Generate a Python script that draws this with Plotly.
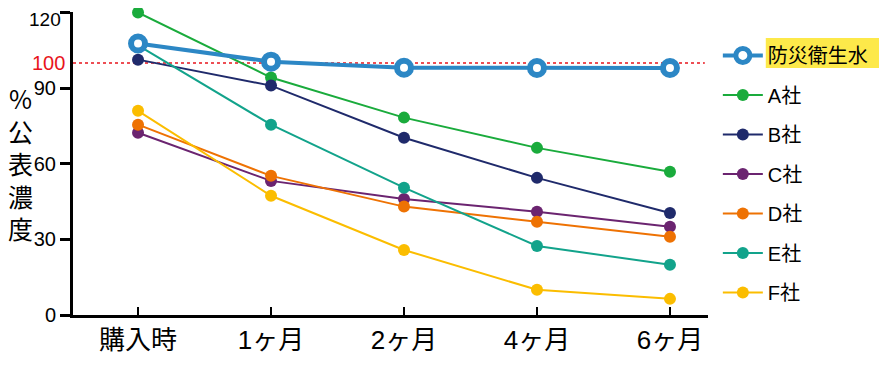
import plotly.graph_objects as go

categories = ["購入時", "1ヶ月", "2ヶ月", "4ヶ月", "6ヶ月"]
series_names = ["防災衛生水", "A社", "B社", "C社", "D社", "E社", "F社"]
bousai = [107.7, 100.5, 98.1, 98.0, 98.0]
a_sha = [120.0, 94.2, 78.3, 66.3, 56.8]
b_sha = [101.3, 91.0, 70.3, 54.4, 40.5]
c_sha = [72.3, 53.2, 46.0, 41.0, 35.0]
d_sha = [75.5, 55.2, 43.0, 37.0, 31.0]
e_sha = [107.0, 75.5, 50.5, 27.4, 19.9]
f_sha = [81.0, 47.3, 25.8, 10.0, 6.4]
y_ticks = [0, 30, 60, 90, 120]
ref_level = 100

colors = ["#2c87c5", "#1aab3c", "#1f2a6b", "#6b2470", "#ee7203", "#12a38b", "#fbbd00"]
values = [bousai, a_sha, b_sha, c_sha, d_sha, e_sha, f_sha]

FONT = "Liberation Sans, Noto Sans CJK JP, sans-serif"
CJK = "Noto Sans CJK JP, sans-serif"
x = list(range(len(categories)))

# page body has an 8px margin; figure is sized so the picture fills the window
W, H = 879, 359

fig = go.Figure()
for i, (name, vals, col) in enumerate(zip(series_names, values, colors)):
    if i == 0:
        continue
    fig.add_trace(go.Scatter(
        x=x, y=vals, name=name, mode="lines+markers",
        line=dict(color=col, width=2),
        marker=dict(color=col, size=12, symbol="circle"),
        legendgroup=name, legendrank=i + 1, cliponaxis=False,
    ))
fig.add_trace(go.Scatter(
    x=x, y=bousai, name=series_names[0], mode="lines+markers",
    line=dict(color=colors[0], width=4),
    marker=dict(color="white", size=14, symbol="circle",
                line=dict(color=colors[0], width=6)),
    legendgroup=series_names[0], legendrank=1, cliponaxis=False,
))

fig.add_shape(type="line", xref="paper", yref="y", x0=0, x1=0.995,
              y0=ref_level, y1=ref_level,
              line=dict(color="#e8141c", width=1.5, dash="3px,3px"), layer="below")

fig.add_annotation(xref="paper", yref="y", x=0, y=ref_level, xanchor="right",
                   xshift=-6, text=str(ref_level), showarrow=False,
                   font=dict(family=FONT, size=20, color="#e8141c"))

# top tick label drawn slightly lower so it is not clipped at the page edge
tick_text = [str(v) for v in y_ticks[:-1]] + [""]
fig.add_annotation(xref="paper", yref="y", x=0, y=y_ticks[-1], xanchor="right",
                   yanchor="middle", xshift=-11, yshift=-7, text=str(y_ticks[-1]),
                   showarrow=False, borderpad=0,
                   font=dict(family=FONT, size=19, color="black"))

fig.add_annotation(xref="paper", yref="paper", x=-0.083, y=0.502, xanchor="center",
                   yanchor="middle", text="%<br>公<br>表<br>濃<br>度", showarrow=False,
                   font=dict(family=CJK, size=25, color="black"))

# yellow highlight behind first legend entry
fig.add_shape(type="rect", xref="paper", yref="paper",
              x0=1.091, x1=1.276, y0=0.815, y1=0.914,
              fillcolor="#fde94a", line=dict(width=0), layer="below")

fig.update_layout(
    width=W, height=H,
    margin=dict(l=65, r=179, t=4, b=52),
    plot_bgcolor="white", paper_bgcolor="white",
    font=dict(family=FONT, size=20, color="black"),
    showlegend=True,
    legend=dict(x=1.0155, y=0.921, xanchor="left", yanchor="top",
                tracegroupgap=10.5, font=dict(size=20, family=FONT),
                bgcolor="rgba(0,0,0,0)", itemwidth=40),
    xaxis=dict(range=[-0.489, 4.286], tickvals=x, ticktext=categories,
               showgrid=False, zeroline=False, showline=True, automargin=False,
               linecolor="black", linewidth=3, ticks="inside", ticklen=8,
               tickwidth=2, tickcolor="black",
               tickfont=dict(size=26, family=FONT)),
    yaxis=dict(range=[0, 120.2], tickvals=y_ticks, ticktext=tick_text,
               showgrid=False, automargin=False,
               zeroline=False, showline=True, linecolor="black", linewidth=3,
               ticks="outside", ticklen=10, tickwidth=3, tickcolor="black",
               tickfont=dict(size=20, family=FONT)),
)

fig.write_html("out.html")
